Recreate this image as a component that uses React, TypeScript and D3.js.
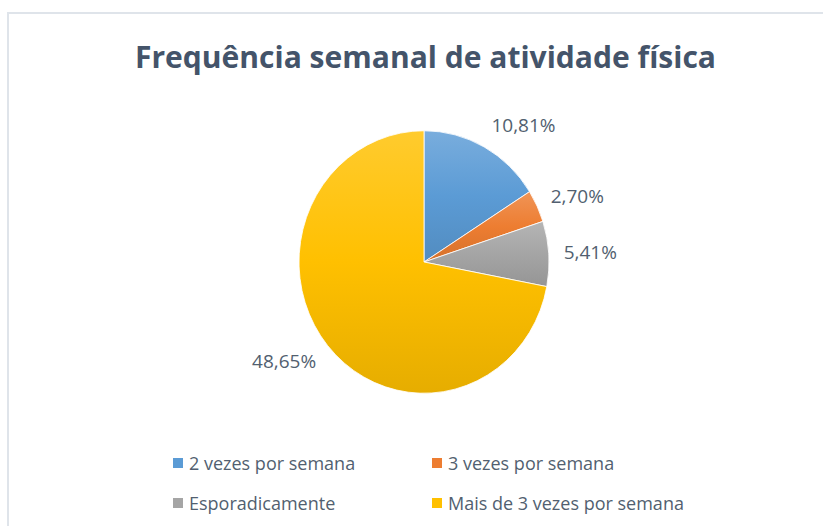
import { useRef, useEffect } from "react";
import * as d3 from "d3";

const categories = [
  "2 vezes por semana",
  "3 vezes por semana",
  "Esporadicamente",
  "Mais de 3 vezes por semana",
];
const values = [10.81, 2.7, 5.41, 48.65];
const labels = ["10,81%", "2,70%", "5,41%", "48,65%"];
const colors = ["#5b9bd5", "#ed7d31", "#a5a5a5", "#ffc000"];

const App = () => {
  const svgRef = useRef(null);

  useEffect(() => {
    const root = d3.select(svgRef.current);
    root.selectAll("*").remove();

    const width = 823;
    const height = 526;
    const cx = 424;
    const cy = 262;
    const radius = 125;
    const stretchY = 1.05;

    root.attr("width", width).attr("height", height);

    const defs = root.append("defs");
    colors.forEach((c, i) => {
      const g = defs
        .append("linearGradient")
        .attr("id", `grad${i}`)
        .attr("x1", 0)
        .attr("y1", 0)
        .attr("x2", 0)
        .attr("y2", 1);
      g.append("stop")
        .attr("offset", "0%")
        .attr("stop-color", d3.interpolateRgb(c, "#ffffff")(0.18));
      g.append("stop").attr("offset", "50%").attr("stop-color", c);
      g.append("stop")
        .attr("offset", "100%")
        .attr("stop-color", d3.interpolateRgb(c, "#000000")(0.1));
    });

    root
      .append("rect")
      .attr("width", width)
      .attr("height", height)
      .attr("fill", "#ffffff");

    // chart frame
    root
      .append("rect")
      .attr("x", 8)
      .attr("y", 13)
      .attr("width", 830)
      .attr("height", 540)
      .attr("fill", "none")
      .attr("stroke", "#dfe4ea")
      .attr("stroke-width", 2);

    root
      .append("text")
      .attr("x", 425.5)
      .attr("y", 68)
      .attr("text-anchor", "middle")
      .attr("textLength", 581)
      .attr("lengthAdjust", "spacingAndGlyphs")
      .style("font-family", "'Open Sans', sans-serif")
      .style("font-size", "31px")
      .style("font-weight", "bold")
      .style("fill", "#44546a")
      .text("Frequência semanal de atividade física");

    const pie = d3
      .pie<number>()
      .value((d) => d)
      .sort(null);

    const arc = d3.arc().innerRadius(0).outerRadius(radius);

    const g = root
      .append("g")
      .attr("transform", `translate(${cx},${cy}) scale(1,${stretchY})`);

    const arcs = pie(values);

    g.selectAll("path")
      .data(arcs)
      .enter()
      .append("path")
      .attr("d", arc as any)
      .attr("fill", (d, i) => `url(#grad${i})`)
      .attr("stroke", "#ffffff")
      .attr("stroke-width", 0.8);

    // data labels outside end: box corner sits on a ring just outside the pie
    const labelR = radius + 15;
    const labelH = 18;
    root
      .append("g")
      .selectAll("text")
      .data(arcs)
      .enter()
      .append("text")
      .each(function (d, i) {
        const mid = (d.startAngle + d.endAngle) / 2;
        const sx = Math.sin(mid);
        const cs = Math.cos(mid);
        const px = cx + labelR * sx;
        const py = cy - labelR * cs * stretchY;
        d3.select(this)
          .attr("x", px)
          .attr("y", py - (labelH / 2) * cs + 7)
          .attr("text-anchor", sx >= 0 ? "start" : "end")
          .text(labels[i]);
      })
      .style("font-family", "'Open Sans', sans-serif")
      .style("font-size", "19px")
      .style("fill", "#525f70");

    // legend
    const legendX = [173, 432];
    const legendY = [463, 503];
    const legend = root
      .append("g")
      .selectAll("g")
      .data(categories)
      .enter()
      .append("g")
      .attr(
        "transform",
        (d, i) => `translate(${legendX[i % 2]},${legendY[Math.floor(i / 2)]})`
      );

    legend
      .append("rect")
      .attr("x", 0)
      .attr("y", -5)
      .attr("width", 10)
      .attr("height", 10)
      .attr("fill", (d, i) => colors[i]);

    legend
      .append("text")
      .attr("x", 16)
      .attr("y", 6.5)
      .style("font-family", "'Open Sans', sans-serif")
      .style("font-size", "18px")
      .style("fill", "#525f70")
      .text((d) => d);
  }, []);

  return (
    <div style={{ position: "absolute", left: 0, top: 0 }}>
      <svg ref={svgRef} style={{ display: "block" }}></svg>
    </div>
  );
};

export default App;
